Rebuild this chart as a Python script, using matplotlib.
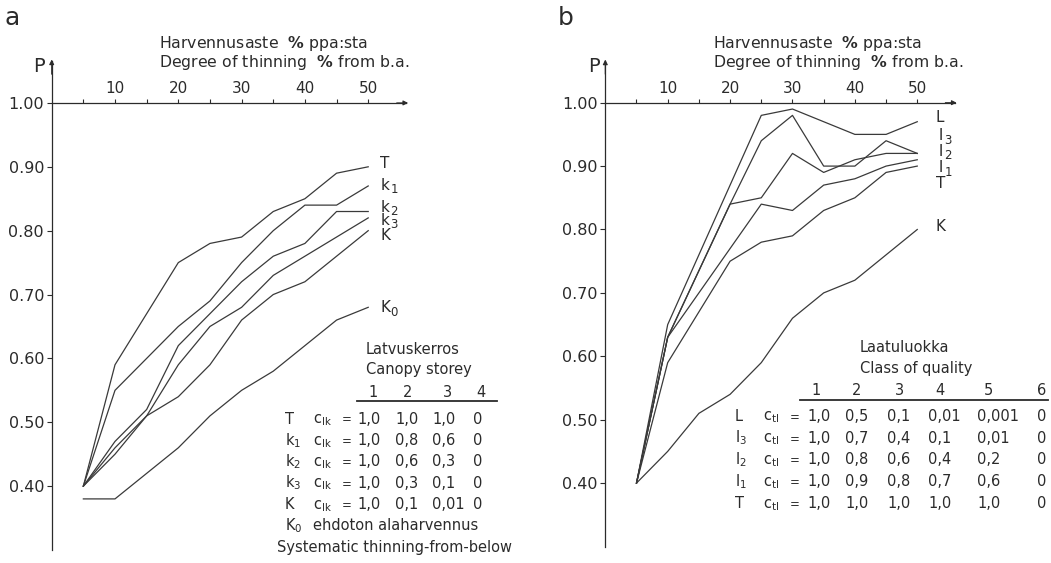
import matplotlib
matplotlib.use('Agg')
import matplotlib.pyplot as plt
from matplotlib.transforms import offset_copy

plt.rcParams['font.family'] = ['DejaVu Sans']
plt.rcParams['mathtext.fontset'] = 'dejavusans'

# ---------------- data ----------------
thinning = [5, 10, 15, 20, 25, 30, 35, 40, 45, 50]
x_ticks = [10, 20, 30, 40, 50]
y_ticks = [0.40, 0.50, 0.60, 0.70, 0.80, 0.90, 1.00]

# panel a : canopy storey
a_T = [0.40, 0.59, 0.67, 0.75, 0.78, 0.79, 0.83, 0.85, 0.89, 0.90]
a_k1 = [0.40, 0.55, 0.60, 0.65, 0.69, 0.75, 0.80, 0.84, 0.84, 0.87]
a_k2 = [0.40, 0.47, 0.52, 0.62, 0.67, 0.72, 0.76, 0.78, 0.83, 0.83]
a_k3 = [0.40, 0.46, 0.51, 0.59, 0.65, 0.68, 0.73, 0.76, 0.79, 0.82]
a_K = [0.40, 0.45, 0.51, 0.54, 0.59, 0.66, 0.70, 0.72, 0.76, 0.80]
a_K0 = [0.38, 0.38, 0.42, 0.46, 0.51, 0.55, 0.58, 0.62, 0.66, 0.68]
a_series = [a_T, a_k1, a_k2, a_k3, a_K, a_K0]
a_names = [('T', ''), ('k', '1'), ('k', '2'), ('k', '3'), ('K', ''), ('K', '0')]
a_label_y = [0.898, 0.864, 0.830, 0.809, 0.785, 0.672]

# panel b : class of quality
b_L = [0.40, 0.65, 0.76, 0.87, 0.98, 0.99, 0.97, 0.95, 0.95, 0.97]
b_l3 = [0.40, 0.63, 0.735, 0.84, 0.94, 0.98, 0.90, 0.90, 0.94, 0.92]
b_l2 = [0.40, 0.63, 0.735, 0.84, 0.85, 0.92, 0.89, 0.91, 0.92, 0.92]
b_l1 = [0.40, 0.63, 0.70, 0.77, 0.84, 0.83, 0.87, 0.88, 0.90, 0.91]
b_T = [0.40, 0.59, 0.67, 0.75, 0.78, 0.79, 0.83, 0.85, 0.89, 0.90]
b_K = [0.40, 0.45, 0.51, 0.54, 0.59, 0.66, 0.70, 0.72, 0.76, 0.80]
b_series = [b_L, b_l3, b_l2, b_l1, b_T, b_K]
b_names = [('L', ''), ('l', '3'), ('l', '2'), ('l', '1'), ('T', ''), ('K', '')]
b_label_y = [0.969, 0.941, 0.916, 0.890, 0.865, 0.797]

# tables
a_rows = ['T', r'$\mathregular{k_1}$', r'$\mathregular{k_2}$', r'$\mathregular{k_3}$', 'K']
a_cols = ['1', '2', '3', '4']
a_vals = [['1,0', '1,0', '1,0', '0'],
          ['1,0', '0,8', '0,6', '0'],
          ['1,0', '0,6', '0,3', '0'],
          ['1,0', '0,3', '0,1', '0'],
          ['1,0', '0,1', '0,01', '0']]
b_rows = ['L', r'$\mathregular{l_3}$', r'$\mathregular{l_2}$', r'$\mathregular{l_1}$', 'T']
b_cols = ['1', '2', '3', '4', '5', '6']
b_vals = [['1,0', '0,5', '0,1', '0,01', '0,001', '0'],
          ['1,0', '0,7', '0,4', '0,1', '0,01', '0'],
          ['1,0', '0,8', '0,6', '0,4', '0,2', '0'],
          ['1,0', '0,9', '0,8', '0,7', '0,6', '0'],
          ['1,0', '1,0', '1,0', '1,0', '1,0', '0']]

# ---------------- figure ----------------
W, H = 1051, 563
fig = plt.figure(figsize=(W / 100, H / 100), dpi=100)
ink = '#2b2b2b'
line_c = '#3a3a3a'
TXT = 10.5


def fx(px):
    return px / W


def fy(py):
    return 1 - py / H


def ftext(px, py, s, **kw):
    kw.setdefault('color', ink)
    kw.setdefault('fontsize', TXT)
    kw.setdefault('va', 'baseline')
    fig.text(fx(px), fy(py), s, **kw)


def setup(ax):
    ax.set_xlim(0, 56)
    ax.set_ylim(0.30, 1.065)
    ax.patch.set_visible(False)
    ax.spines['right'].set_visible(False)
    ax.spines['bottom'].set_visible(False)
    ax.spines['top'].set_position(('data', 1.0))
    for s in ('top', 'left'):
        ax.spines[s].set_color(ink)
        ax.spines[s].set_linewidth(0.9)
    ax.xaxis.tick_top()
    ax.set_xticks(x_ticks)
    ax.set_xticklabels([str(v) for v in x_ticks])
    ax.set_xticks([5, 15, 25, 35, 45], minor=True)
    ax.tick_params(axis='x', which='both', direction='out', length=3,
                   width=0.8, colors=ink, labelsize=11, pad=2)
    ax.set_yticks(y_ticks)
    ax.set_yticklabels([f'{v:.2f}' for v in y_ticks])
    ax.tick_params(axis='y', direction='out', length=3.5, width=0.8,
                   colors=ink, labelsize=11.5, pad=2)
    ax.annotate('', xy=(56.3, 1.0), xytext=(54.5, 1.0),
                arrowprops=dict(arrowstyle='-|>', color=ink, lw=0.8,
                                mutation_scale=7, shrinkA=0, shrinkB=0),
                annotation_clip=False)
    ax.annotate('', xy=(0, 1.068), xytext=(0, 1.045),
                arrowprops=dict(arrowstyle='-|>', color=ink, lw=0.8,
                                mutation_scale=7, shrinkA=0, shrinkB=0),
                annotation_clip=False)


def curve_label(ax, x, y, main, sub):
    ax.text(x, y, main, fontsize=11, color=ink, va='baseline', ha='left')
    if sub:
        dx = 10 if main in ('k', 'K') else 6
        tr = offset_copy(ax.transData, fig=fig, x=dx, y=-3.5, units='dots')
        ax.text(x, y, sub, fontsize=8.5, color=ink, va='baseline', ha='left',
                transform=tr)


# panel a
axa = fig.add_axes([51.7 / W, 0.0231, 354.5 / W, 0.8678])
setup(axa)
for ys, (m, s), ly in zip(a_series, a_names, a_label_y):
    axa.plot(thinning, ys, color=line_c, lw=0.9, clip_on=False)
    curve_label(axa, 51.9, ly, m, s)

# panel b
axb = fig.add_axes([605.3 / W, 0.0293, 349.4 / W, 0.8615])
setup(axb)
for ys, (m, s), ly in zip(b_series, b_names, b_label_y):
    axb.plot(thinning, ys, color=line_c, lw=0.9, clip_on=False)
    curve_label(axb, 53.0 if m not in ('l',) else 53.4, ly, m, s)

# panel letters, axis titles
ftext(5, 25, 'a', fontsize=18)
ftext(558, 25, 'b', fontsize=18)
for x0, ptx in ((159, 39), (713, 594)):
    ftext(x0, 48, r'Harvennusaste  $\mathbf{\%}$ ppa:sta', fontsize=11.3)
    ftext(x0, 67, r'Degree of thinning  $\mathbf{\%}$ from b.a.', fontsize=11.3)
    ftext(ptx, 72, 'P', fontsize=14, ha='center')

# table a
ftext(366, 354, 'Latvuskerros')
ftext(366, 374, 'Canopy storey')
for c, cx in zip(a_cols, [373, 408, 447, 481]):
    ftext(cx, 397, c, ha='center')
fig.add_artist(plt.Line2D([fx(357), fx(497)], [fy(400.5), fy(400.5)], color=ink, lw=1.3))
for i, (rn, vals) in enumerate(zip(a_rows, a_vals)):
    by = 423.5 + i * 21.4
    ftext(285, by, rn)
    ftext(313, by, r'$\mathregular{c_{lk}}$')
    ftext(347, by, '=', ha='center', fontsize=8.5)
    for v, cx in zip(vals, [357, 395, 432, 473]):
        ftext(cx, by, v)
ftext(285, 530.5, r'$\mathregular{K_0}$')
ftext(313, 530.5, 'ehdoton alaharvennus')
ftext(277, 552, 'Systematic thinning-from-below')

# table b
ftext(860, 352, 'Laatuluokka')
ftext(860, 372.5, 'Class of quality')
for c, cx in zip(b_cols, [816, 857, 899, 940, 988, 1042]):
    ftext(cx, 395, c, ha='center')
fig.add_artist(plt.Line2D([fx(800), fx(1048)], [fy(399.5), fy(399.5)], color=ink, lw=1.3))
for i, (rn, vals) in enumerate(zip(b_rows, b_vals)):
    by = 420.7 + i * 21.9
    ftext(735, by, rn)
    ftext(763, by, r'$\mathregular{c_{tl}}$')
    ftext(795, by, '=', ha='center', fontsize=8.5)
    for v, cx in zip(vals, [807, 845, 887, 928, 977, 1037]):
        ftext(cx, by, v)

fig.savefig('out.png', dpi=100)
